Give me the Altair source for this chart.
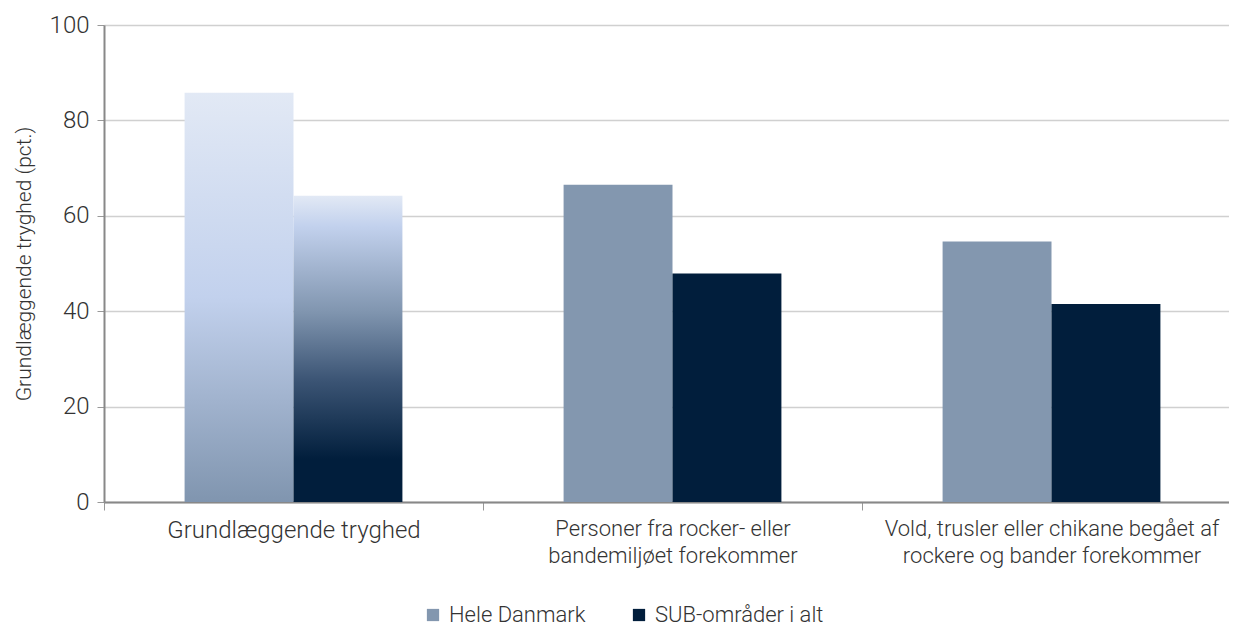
import altair as alt
import pandas as pd

categories = [
    "Grundlæggende tryghed",
    "Personer fra rocker- eller\nbandemiljøet forekommer",
    "Vold, trusler eller chikane begået af\nrockere og bander forekommer",
]
series = ["Hele Danmark", "SUB-områder i alt"]
hele_danmark = [85.8, 66.5, 54.6]
sub_omraader = [64.2, 47.9, 41.5]
colors = ["#8397AF", "#011E3C"]

rows = []
for c, v1, v2 in zip(categories, hele_danmark, sub_omraader):
    rows.append({"category": c, "series": series[0], "value": v1})
    rows.append({"category": c, "series": series[1], "value": v2})
df = pd.DataFrame(rows)

FONT = "Roboto"
TXT = "#333333"

x_enc = alt.X(
    "category:N",
    sort=categories,
    scale=alt.Scale(paddingInner=0, paddingOuter=0, range=[0, 1137]),
    axis=alt.Axis(
        title=None,
        labelAngle=0,
        labelExpr="split(datum.label, '\\n')",
        labelFontSize={
            "condition": {"test": "datum.value == 'Grundlæggende tryghed'", "value": 24},
            "value": 22,
        },
        labelFont=FONT,
        labelFontWeight=300,
        labelColor=TXT,
        labelPadding=8,
        labelLineHeight=27,
        labelLimit=0,
        tickBand="extent",
        tickSize=8,
        tickColor="#999999",
        domainColor="#888888",
        domainWidth=2,
    ),
)
xoff_enc = alt.XOffset(
    "series:N", sort=series, scale=alt.Scale(paddingInner=0, paddingOuter=0.74)
)
y_enc = alt.Y(
    "value:Q",
    scale=alt.Scale(domain=[0, 100], nice=False),
    axis=alt.Axis(
        title="Grundlæggende tryghed (pct.)",
        titleFont=FONT,
        titleFontSize=21,
        titleFontWeight=300,
        titleColor=TXT,
        titlePadding=15,
        values=[0, 20, 40, 60, 80, 100],
        labelFont=FONT,
        labelFontSize=24,
        labelFontWeight=300,
        labelColor=TXT,
        labelPadding=8,
        tickSize=7,
        tickColor="#999999",
        domainColor="#888888",
        domainWidth=2,
        gridColor="#d0d0d0",
        gridWidth=1.5,
    ),
)

base = alt.Chart(df).encode(x=x_enc, xOffset=xoff_enc, y=y_enc)

solid = base.transform_filter(
    alt.datum.category != categories[0]
).mark_bar().encode(
    color=alt.Color(
        "series:N",
        sort=series,
        scale=alt.Scale(domain=series, range=colors),
        legend=alt.Legend(
            title=None,
            orient="none",
            direction="horizontal",
            legendX=318,
            legendY=579,
            symbolType="square",
            symbolSize=150,
            symbolStrokeWidth=0,
            labelFont=FONT,
            labelFontSize=22,
            labelFontWeight=300,
            labelColor=TXT,
            labelOffset=5,
            labelLimit=0,
            columnPadding=42,
        ),
    )
)

grad1 = alt.LinearGradient(
    gradient="linear",
    x1=0, x2=0, y1=0, y2=1,
    stops=[
        alt.GradientStop(offset=0, color="#E2E9F5"),
        alt.GradientStop(offset=0.5, color="#C2D1ED"),
        alt.GradientStop(offset=1, color="#8095AF"),
    ],
)
grad2 = alt.LinearGradient(
    gradient="linear",
    x1=0, x2=0, y1=0, y2=1,
    stops=[
        alt.GradientStop(offset=0, color="#E2E9F5"),
        alt.GradientStop(offset=0.1, color="#C2D1ED"),
        alt.GradientStop(offset=0.38, color="#8095AF"),
        alt.GradientStop(offset=0.6, color="#3C5575"),
        alt.GradientStop(offset=0.86, color="#011E3C"),
        alt.GradientStop(offset=1, color="#011E3C"),
    ],
)

g1 = base.transform_filter(
    (alt.datum.category == categories[0]) & (alt.datum.series == series[0])
).mark_bar(fill=grad1)
g2 = base.transform_filter(
    (alt.datum.category == categories[0]) & (alt.datum.series == series[1])
).mark_bar(fill=grad2)

chart = (
    alt.layer(solid, g1, g2)
    .properties(
        width=1125,
        height=477,
        autosize=alt.AutoSizeParams(type="none"),
        padding={"left": 96, "top": 17, "right": 0, "bottom": 124},
    )
    .configure_view(stroke=None)
    .configure(font=FONT)
)

chart.save("out.html", embed_options={"renderer": "svg", "actions": False})
